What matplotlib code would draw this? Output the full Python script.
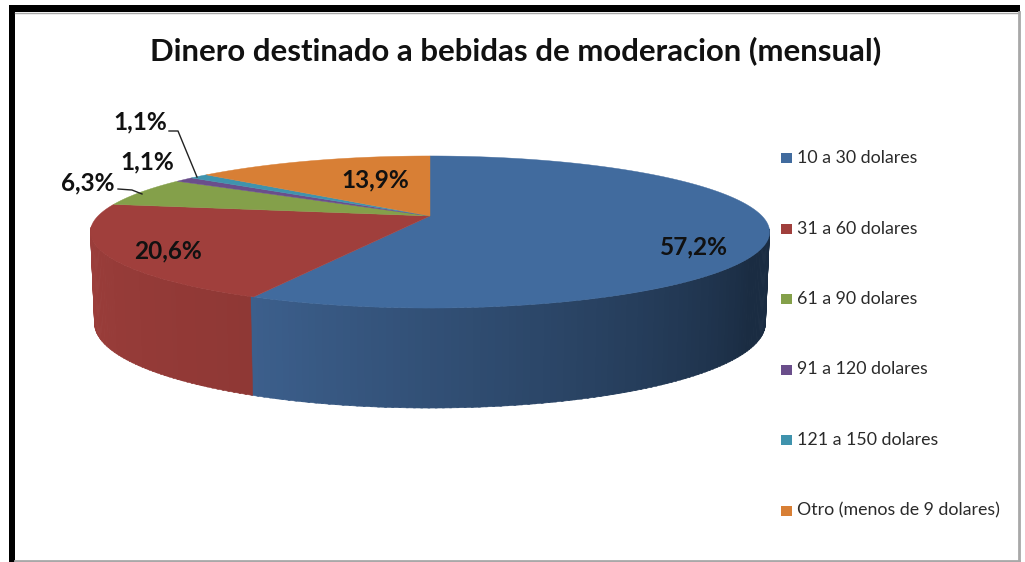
import numpy as np
import matplotlib; matplotlib.use("Agg")
import matplotlib.pyplot as plt
from matplotlib.colors import to_rgb

TITLE = "Dinero destinado a bebidas de moderacion (mensual)"
CATS = ["10 a 30 dolares", "31 a 60 dolares", "61 a 90 dolares",
        "91 a 120 dolares", "121 a 150 dolares", "Otro (menos de 9 dolares)"]
PCT = [57.2, 20.6, 6.3, 1.1, 1.1, 13.9]
CLR = ["#416b9e", "#a03f3c", "#84a04a", "#6a4e8b", "#3f93ad", "#d87f35"]
# side wall colours, left end -> right end of the visible front
SIDE_BLUE = ["#3c5f8c", "#1a2c42"]
SIDE_RED = ["#9c3e3b", "#8f3835"]

CX, CY, R, PERSP, TILT = 430, 216, 332, 0.2105, -27.2


def proj(deg, drop=False):
    # deg runs clockwise from the back of the pie
    th = np.radians(deg)
    u, v = np.sin(th), np.cos(th)
    w = 1 + PERSP * v
    x = R * u / w
    y = (TILT * v + CY) / w
    if drop:
        return CX + x * 0.988, y + 88.6 - 11.4 * v
    return CX + x, y


def mix(a, b, t):
    a, b = np.array(to_rgb(a)), np.array(to_rgb(b))
    return tuple(a + (b - a) * t)


plt.rcParams["font.family"] = ["Lato", "DejaVu Sans"]
fig = plt.figure(figsize=(10.25, 5.62), dpi=100)
ax = fig.add_axes([0, 0, 1, 1])
ax.set_xlim(0, 1025); ax.set_ylim(562, 0); ax.axis("off")

# chart frame
ax.fill([9, 1020, 1020, 9], [5, 5, 12, 12], color="black", lw=0)
ax.fill([9, 15, 15, 9], [5, 5, 562, 562], color="black", lw=0)
ax.plot([15, 1019], [12.7, 12.7], color="#a8a8a8", lw=1)
ax.plot([1019, 1019], [12, 560], color="#a8a8a8", lw=2)
ax.plot([15, 1019], [560.5, 560.5], color="#a8a8a8", lw=2)

ang = np.cumsum([0] + PCT) / sum(PCT) * 360

# side wall, thin strips from the right round to the left
a0, a1 = 100.0, 262.0
edges = np.arange(a0, a1 + 0.5, 1.0)
for s, e in zip(edges[:-1], edges[1:]):
    arc = np.linspace(s, e + 0.3, 3)
    xt, yt = proj(arc)
    xb, yb = proj(arc, drop=True)
    mid = (s + e) / 2
    if mid < ang[1]:
        c = mix(SIDE_BLUE[1], SIDE_BLUE[0], np.clip((mid - 120) / (ang[1] - 120), 0, 1))
    else:
        c = mix(SIDE_RED[1], SIDE_RED[0], (mid - ang[1]) / (a1 - ang[1]))
    ax.fill(np.r_[xt, xb[::-1]], np.r_[yt, yb[::-1]], color=c, lw=0.4, ec=c)

# top face
for s, e, c in zip(ang[:-1], ang[1:], CLR):
    arc = np.linspace(s, e, max(int(e - s) * 2, 6))
    x, y = proj(arc)
    ax.fill(np.r_[CX, x], np.r_[CY, y], color=c, lw=0.3, ec=c)

ax.text(516, 51, TITLE, ha="center", va="center", fontsize=22.4, fontweight="bold", color="#111111")

# data labels
LBL_X = [694, 168, 88, 147, 140, 375]
LBL_Y = [247, 251, 183, 162, 122, 180]
for p, lx, ly in zip(PCT, LBL_X, LBL_Y):
    ax.text(lx, ly, f"{p:.1f}%".replace(".", ","), ha="center", va="center",
            fontsize=17.6, fontweight="bold", color="#111111")

# leader lines
ax.plot([118, 132, 142], [189, 190, 194], color="#222222", lw=1)
ax.plot([169, 178, 197], [131, 131, 177], color="#222222", lw=1)

# legend
LEG_Y = [158, 228.6, 299, 369.5, 440, 510.5]
for name, c, ly in zip(CATS, CLR, LEG_Y):
    ax.fill([781, 792, 792, 781], [ly - 5, ly - 5, ly + 5, ly + 5], color=c, lw=0)
    ax.text(797, ly, name, ha="left", va="center", fontsize=12.8, color="#2a2a2a")

fig.savefig("out.png", dpi=100)
